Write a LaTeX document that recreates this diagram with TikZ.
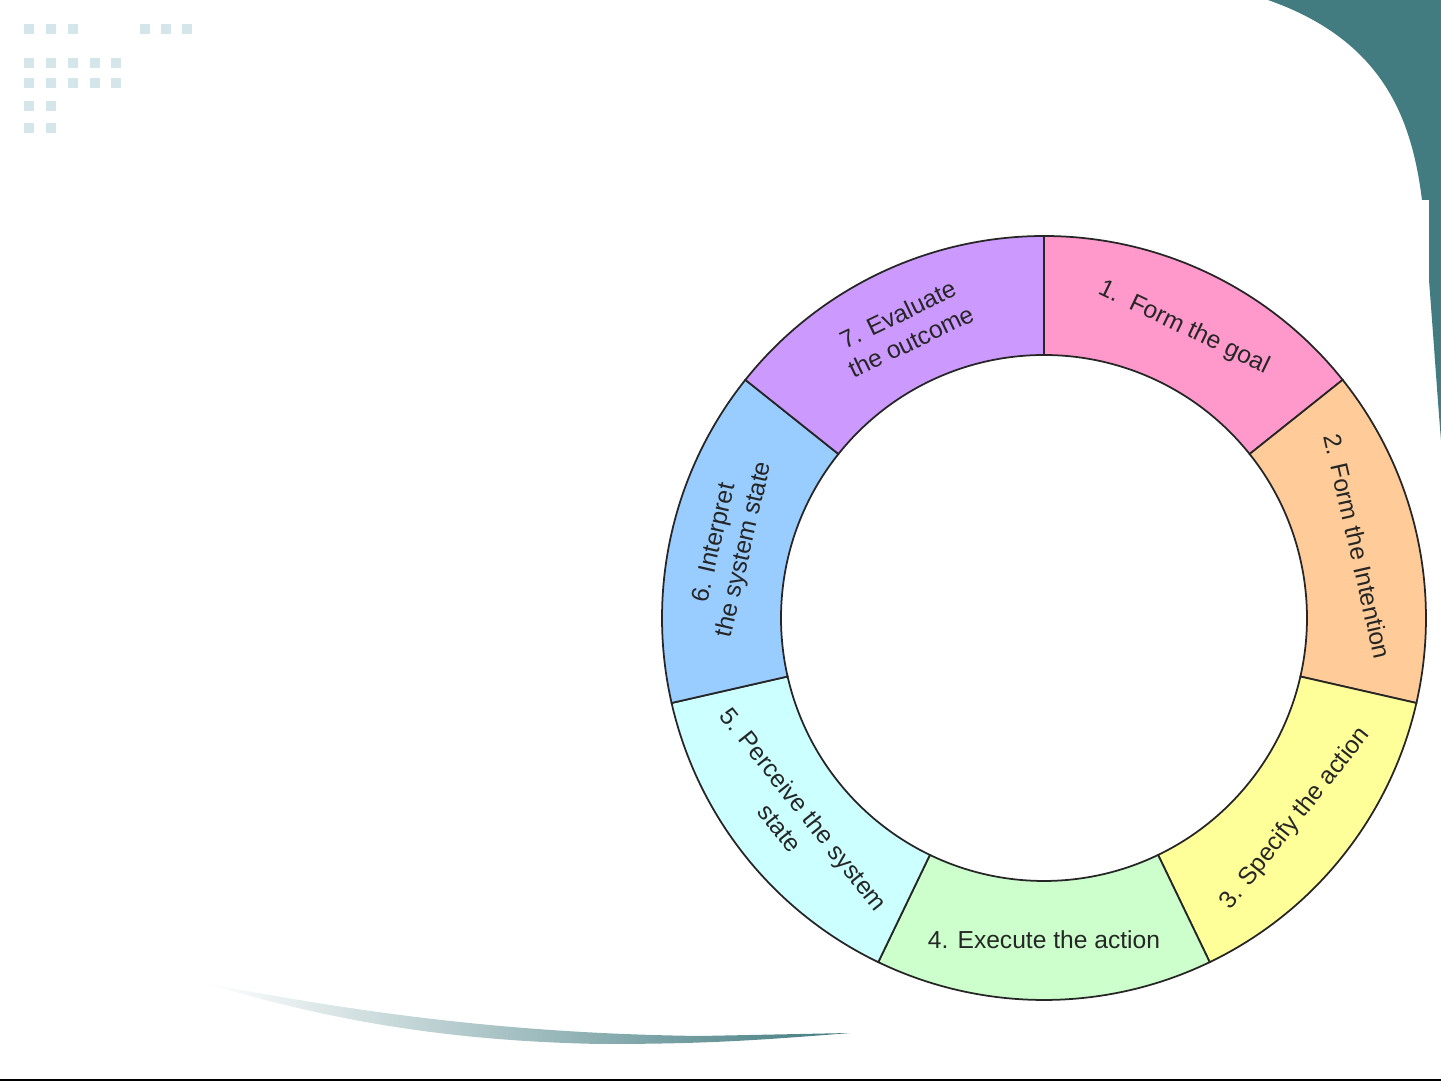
\documentclass[tikz,border=0pt]{standalone}
\usepackage{fontspec}
\setmainfont{Liberation Sans}
\usetikzlibrary{positioning}

\definecolor{slideteal}{HTML}{427B80}
\definecolor{dotblue}{HTML}{D4E6E9}
\definecolor{segpink}{HTML}{FF99CC}
\definecolor{segtan}{HTML}{FFCC99}
\definecolor{segyellow}{HTML}{FFFF99}
\definecolor{seggreen}{HTML}{CCFFCC}
\definecolor{segcyan}{HTML}{CCFFFF}
\definecolor{segblue}{HTML}{99CCFF}
\definecolor{seglilac}{HTML}{CC99FF}

\begin{document}
\begin{tikzpicture}
  [
    x=0.1mm, y=0.1mm,
    Segment/.style={draw=black!85, line width=0.5pt},
    Label/.style={text=black!85, font=\fontsize{7}{8.6}\selectfont, align=center, inner sep=0pt},
    Dot/.style={fill=dotblue, draw=none}
  ]
  \useasboundingbox (0,0) rectangle (1441,1081);

  % Background
  \foreach \x/\y in {24/1057, 46/1057, 68/1057, 140/1057, 161/1057, 182/1057,
                     24/1023, 46/1023, 68/1023, 90/1023, 111/1023,
                     24/1003, 46/1003, 68/1003, 90/1003, 111/1003,
                     24/980, 46/980, 24/958, 46/958}
    \fill[Dot] (\x,\y) rectangle ++(10,-10);

  \fill[slideteal] (1268,1081) .. controls (1385,1040) and (1412,960) .. (1422,881)
    .. controls (1430,800) and (1436,700) .. (1441,641) -- (1441,1081) -- cycle;
  \fill[white] (1200,881) rectangle (1429,300);

  \shade[left color=white, right color=slideteal] (205,98) .. controls (400,60) and (550,47) .. (700,45)
    -- (850,48) .. controls (750,40) and (700,37) .. (600,37) .. controls (450,40) and (330,60) .. (205,98) -- cycle;

  \fill[black] (0,0) rectangle (1441,2);

  % Ring
  \begin{scope}[shift={(1044,463)}]
    \foreach \i/\col in {1/segpink, 2/segtan, 3/segyellow, 4/seggreen, 5/segcyan, 6/segblue, 7/seglilac} {
      \pgfmathsetmacro\a{90-51.4286*(\i-1)}
      \pgfmathsetmacro\b{\a-51.4286}
      \filldraw[Segment, fill=\col] (\a:382) arc[start angle=\a, end angle=\b, radius=382]
        -- (\b:263) arc[start angle=\b, end angle=\a, radius=263] -- cycle;
    }

    % Nodes
    \node[Label, rotate=-25.71] (goal) at (64.29:322) {1.\ \ Form the goal};
    \node[Label, rotate=-77.14] (intention) at (12.86:322) {2. Form the Intention};
    \node[Label, rotate=51.43] (specify) at (-38.57:322) {3. Specify the action};
    \node[Label] (execute) at (-90:322) {4. Execute the action};
    \node[Label, rotate=-51.43] (perceive) at (-141.43:322) {5. Perceive the system\\state};
    \node[Label, rotate=77.14] (interpret) at (167.14:322) {6. Interpret\\the system state};
    \node[Label, rotate=25.71] (evaluate) at (115.71:322) {7. Evaluate\\the outcome};
  \end{scope}

\end{tikzpicture}
\end{document}
